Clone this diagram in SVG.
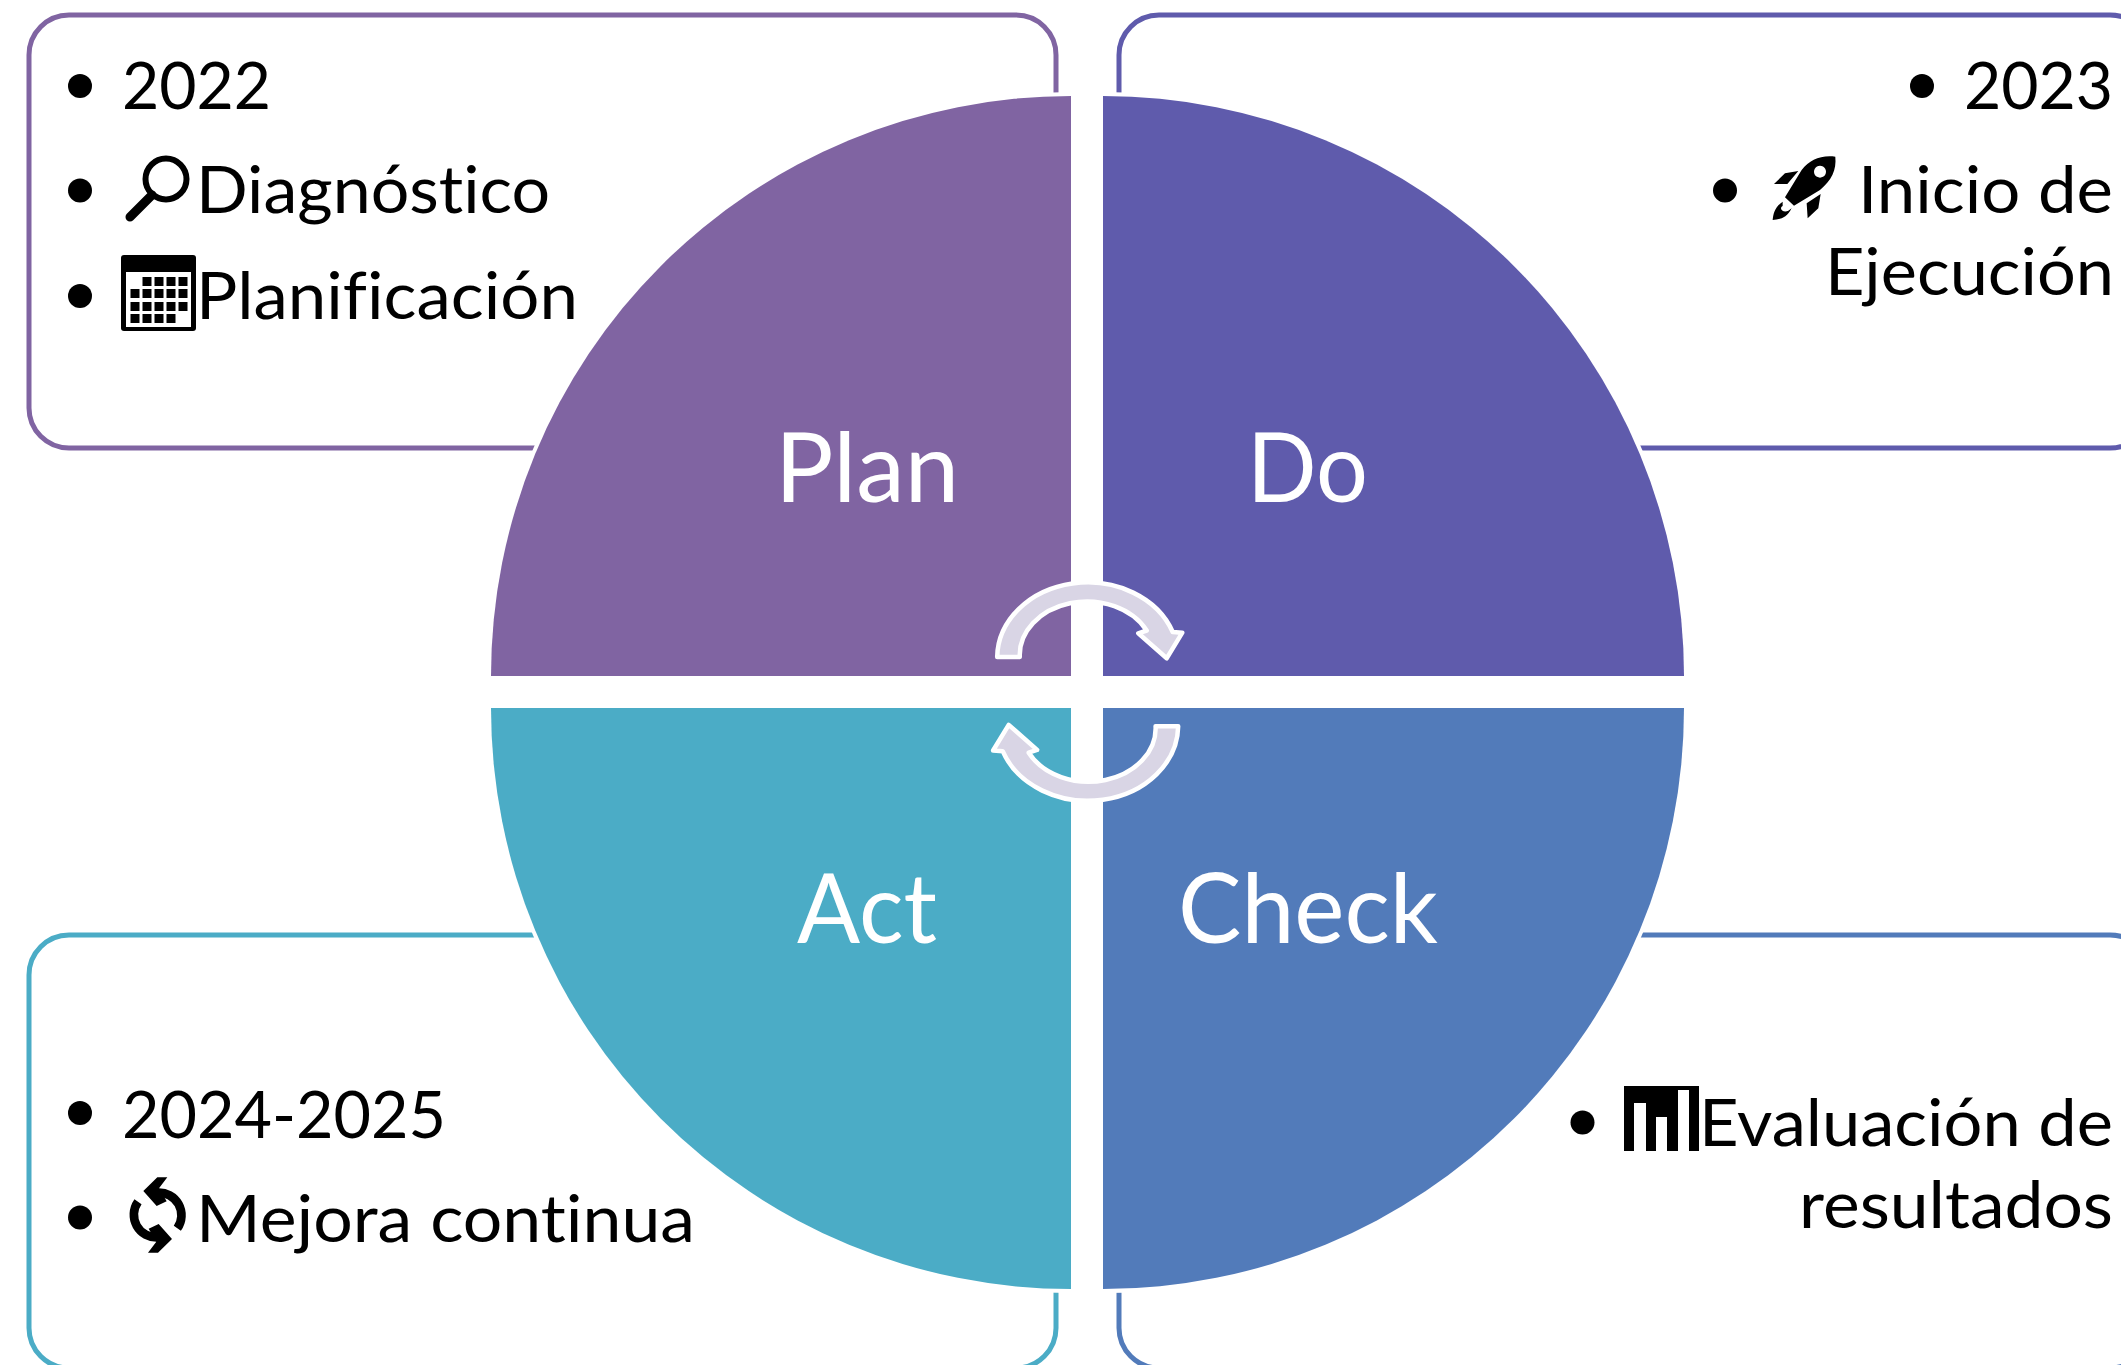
<svg xmlns="http://www.w3.org/2000/svg" xmlns:xlink="http://www.w3.org/1999/xlink" width="2121" height="1365" viewBox="0 0 2121 1365">
<style>
.box{fill:#fff;stroke-width:5}
.pie{stroke:#fff;stroke-width:8;paint-order:stroke;stroke-linejoin:miter}
.t{font-family:"Lato","Carlito","Open Sans",sans-serif;font-size:65px;fill:#000;font-variant-ligatures:none}
.l{font-family:"Lato","Carlito","Open Sans",sans-serif;font-size:97px;fill:#fff;font-variant-ligatures:none}
.arrow{fill:#d9d5e5;stroke:#fff;stroke-width:4.5;stroke-linejoin:round}
</style>
<defs>
<path id="cyc" class="arrow" d="M997.2 657 A90.500 75.500 0 0 1 1172.7 632 L1182.3 632.7 L1166.7 658.3 L1138.3 633.300 L1146.7 630.5 A67.2 53.500 0 0 0 1019.8 657 Z"/>
</defs>
<rect width="2121" height="1365" fill="#fff"/>
<g id="box-plan"><rect class="box" x="29" y="15" width="1027" height="433" rx="40" stroke="#8064a2"/></g>
<g id="box-do"><rect class="box" x="1119" y="15" width="1031" height="433" rx="40" stroke="#5f5bac"/></g>
<g id="box-act"><rect class="box" x="29" y="935" width="1027" height="433" rx="40" stroke="#4bacc6"/></g>
<g id="box-check"><rect class="box" x="1119" y="935" width="1031" height="433" rx="40" stroke="#527bba"/></g>

<g id="node-plan"><path class="pie" fill="#8064a2" d="M1071 676H491A580 580 0 0 1 1071 96Z"/><text class="l" x="775" y="502" textLength="184" lengthAdjust="spacingAndGlyphs">Plan</text></g>
<g id="node-do"><path class="pie" fill="#5f5bac" d="M1103 676V96A581 580 0 0 1 1684 676Z"/><text class="l" x="1247" y="502" textLength="121" lengthAdjust="spacingAndGlyphs">Do</text></g>
<g id="node-check"><path class="pie" fill="#527bba" d="M1103 708H1684A581 581 0 0 1 1103 1289Z"/><text class="l" x="1178" y="943" textLength="260" lengthAdjust="spacingAndGlyphs">Check</text></g>
<g id="node-act"><path class="pie" fill="#4bacc6" d="M1071 708V1289A580 581 0 0 1 491 708Z"/><text class="l" x="797" y="943" textLength="140" lengthAdjust="spacingAndGlyphs">Act</text></g>

<g id="connectors">
<use xlink:href="#cyc" href="#cyc"/>
<use xlink:href="#cyc" href="#cyc" transform="rotate(180 1087.7 691.6)"/>
</g>

<g id="text-plan">
<circle cx="80" cy="86" r="12"/><text class="t" x="122" y="109" textLength="149" lengthAdjust="spacingAndGlyphs">2022</text>
<circle cx="80" cy="190.5" r="12"/>
<g id="icon-search"><circle cx="166" cy="179" r="20.5" fill="none" stroke="#000" stroke-width="6"/><path d="M152 195L130 217" stroke="#000" stroke-width="9" stroke-linecap="round"/></g>
<text class="t" x="196" y="213" textLength="354" lengthAdjust="spacingAndGlyphs">Diagnóstico</text>
<circle cx="80" cy="296" r="12"/>
<g id="icon-calendar"><rect x="121" y="255" width="75" height="76" rx="3"/><rect x="126" y="272" width="65" height="55" fill="#fff"/>
<path d="M142.500 277h9v9h-9zM154.500 277h9v9h-9zM166.500 277h9v9h-9zM178.500 277h9v9h-9zM130.500 289h9v9h-9zM142.500 289h9v9h-9zM154.500 289h9v9h-9zM166.500 289h9v9h-9zM178.500 289h9v9h-9zM130.500 302h9v9h-9zM142.500 302h9v9h-9zM154.500 302h9v9h-9zM166.500 302h9v9h-9zM178.500 302h9v9h-9zM130.500 314h9v9h-9zM142.500 314h9v9h-9zM154.500 314h9v9h-9zM166.500 314h9v9h-9z"/></g>
<text class="t" x="196" y="319" textLength="382" lengthAdjust="spacingAndGlyphs">Planificación</text>
</g>

<g id="text-do">
<circle cx="1922" cy="86" r="12"/><text class="t" x="1964" y="109" textLength="149" lengthAdjust="spacingAndGlyphs">2023</text>
<circle cx="1725" cy="190.500" r="12"/>
<g id="icon-rocket" transform="translate(1650 0) scale(.3333)">
<path fill-rule="evenodd" d="M556 470C510 465 480 480 455 510L405 592L432 617L510 570C545 540 560 510 556 470ZM510 497a18 18 0 1 0 .1 0Z"/>
<path d="M445 513L405 520L372 552L412 552ZM512 582L470 610L473 655L505 625ZM398 605C375 620 370 640 368 660C390 658 410 655 425 625L415 632C400 640 385 625 398 618Z"/>
</g>
<text class="t" x="1858" y="213" textLength="255" lengthAdjust="spacingAndGlyphs">Inicio de</text>
<text class="t" x="1825" y="295" textLength="289" lengthAdjust="spacingAndGlyphs">Ejecución</text>
</g>

<g id="text-check">
<circle cx="1582.500" cy="1122.500" r="12"/>
<g id="icon-chart"><path fill-rule="evenodd" d="M1624 1086H1699V1151H1624ZM1634 1103V1151H1646V1103ZM1656 1117V1151H1667V1117ZM1678 1090V1151H1689V1090Z"/></g>
<text class="t" x="1699" y="1146" textLength="414" lengthAdjust="spacingAndGlyphs">Evaluación de</text>
<text class="t" x="1799" y="1228" textLength="314" lengthAdjust="spacingAndGlyphs">resultados</text>
</g>

<g id="text-act">
<circle cx="80" cy="1113" r="12"/><text class="t" x="122" y="1138" textLength="324" lengthAdjust="spacingAndGlyphs">2024-2025</text>
<circle cx="80" cy="1217.500" r="12"/>
<g id="icon-refresh" transform="translate(100 1060) scale(.3333)">
<path d="M172 398A68 68 0 0 1 232 505M174 532A68 68 0 0 1 114 425" fill="none" stroke="#000" stroke-width="26"/>
<path d="M172 352L202 352L177 385L200 424L170 438L130 393ZM174 578L144 578L169 545L146 506L176 492L216 537Z"/>
</g>
<text class="t" x="196" y="1242" textLength="499" lengthAdjust="spacingAndGlyphs">Mejora continua</text>
</g>
</svg>
